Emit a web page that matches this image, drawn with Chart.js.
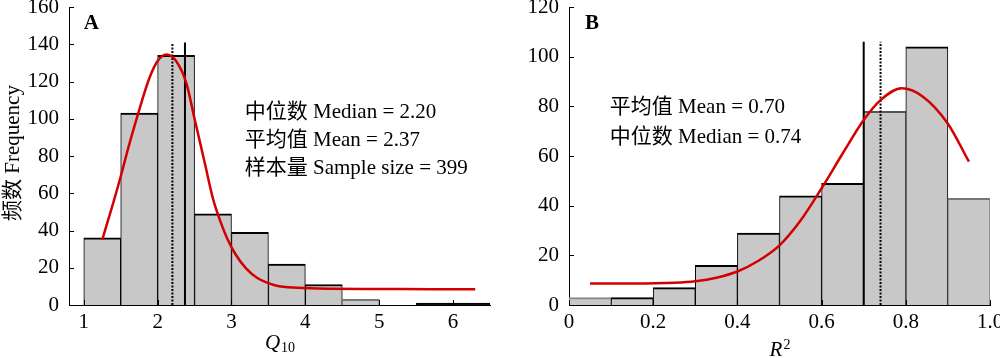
<!DOCTYPE html>
<html>
<head>
<meta charset="utf-8">
<script src="https://cdn.jsdelivr.net/npm/chart.js@4.4.1/dist/chart.umd.min.js"></script>
<style>
  html, body { margin: 0; padding: 0; background: #fff; }
  #wrap { width: 1000px; height: 358px; display: flex; }
  .panel { position: relative; width: 500px; height: 358px; }
</style>
</head>
<body>
<div id="wrap">
  <div class="panel"><canvas id="chartA"></canvas></div>
  <div class="panel"><canvas id="chartB"></canvas></div>
</div>
<script>
// ---- panel A : Q10 ----
const binsA = [1.25, 1.75, 2.25, 2.75, 3.25, 3.75, 4.25, 4.75, 5.25, 5.75, 6.25];
const countsA = [36, 103, 134, 49, 39, 22, 11, 3, 0, 1, 1];
const curveXA = [1.25, 1.4, 1.5, 1.6, 1.73, 1.89, 2.0, 2.12, 2.25, 2.39, 2.5, 2.64, 2.75, 2.84, 2.95, 3.05, 3.2, 3.35, 3.6, 3.9, 4.3, 5.0, 5.7, 6.3];
const curveYA = [35, 55, 69, 84, 102, 122, 131, 134.5, 131, 119, 100, 76, 57, 46, 35, 27.5, 19.5, 14.5, 10.5, 9.2, 8.7, 8.6, 8.5, 8.5];
const meanA = 2.37, medianA = 2.20, lineTopA = 141;
const xTicksA = [1, 2, 3, 4, 5, 6];
const xLabelsA = ['1', '2', '3', '4', '5', '6'];
const yTicksA = [0, 20, 40, 60, 80, 100, 120, 140, 160];
const textsA = ['中位数 Median = 2.20', '平均值 Mean = 2.37', '样本量 Sample size = 399'];

// ---- panel B : R2 ----
const binsB = [0.05, 0.15, 0.25, 0.35, 0.45, 0.55, 0.65, 0.75, 0.85, 0.95];
const countsB = [3, 3, 7, 16, 29, 44, 49, 78, 104, 43];
const curveXB = [0.05, 0.15, 0.25, 0.3, 0.35, 0.4, 0.45, 0.5, 0.55, 0.6, 0.65, 0.7, 0.74, 0.79, 0.84, 0.9, 0.95];
const curveYB = [8.7, 8.7, 9.0, 9.6, 11, 13.5, 17.8, 24, 34, 47, 61, 74.5, 82.5, 87.3, 84, 73, 57.7];
const meanB = 0.70, medianB = 0.74, lineTopB = 106;
const xTicksB = [0, 0.2, 0.4, 0.6, 0.8, 1.0];
const xLabelsB = ['0', '0.2', '0.4', '0.6', '0.8', '1.0'];
const yTicksB = [0, 20, 40, 60, 80, 100, 120];
const textsB = ['平均值 Mean = 0.70', '中位数 Median = 0.74'];

const FONT = "'Liberation Serif', 'Noto Sans CJK SC', serif";
Chart.defaults.font.family = FONT;
Chart.defaults.font.size = 21;
Chart.defaults.color = '#000';

const decor = {
    id: 'decor',
    afterDatasetsDraw(chart, args, opts) {
        const ctx = chart.ctx, area = chart.chartArea;
        const xs = chart.scales.x, ys = chart.scales.y;
        ctx.save();
        ctx.strokeStyle = '#000';
        ctx.lineWidth = 1;
        ctx.beginPath();
        xs.ticks.forEach(t => {
            const px = Math.round(xs.getPixelForValue(t.value)) + 0.5;
            ctx.moveTo(px, area.bottom);
            ctx.lineTo(px, area.bottom - 5);
        });
        ys.ticks.forEach(t => {
            const py = Math.round(ys.getPixelForValue(t.value)) + 0.5;
            ctx.moveTo(area.left, py);
            ctx.lineTo(area.left + 5, py);
        });
        ctx.stroke();
        ctx.restore();
    },
    afterDraw(chart, args, opts) {
        const ctx = chart.ctx, area = chart.chartArea;
        const xs = chart.scales.x, ys = chart.scales.y;
        ctx.save();
        ctx.fillStyle = '#000';
        ctx.textBaseline = 'alphabetic';
        ctx.textAlign = 'left';

        // panel letter
        ctx.font = 'bold 21px ' + FONT;
        ctx.fillText(opts.letter, xs.getPixelForValue(opts.letterAt[0]), ys.getPixelForValue(opts.letterAt[1]));

        // annotation lines
        ctx.font = '21px ' + FONT;
        opts.lines.forEach((s, i) => {
            ctx.fillText(s, xs.getPixelForValue(opts.linesX), ys.getPixelForValue(opts.linesY[i]));
        });

        // x title with sub/superscript
        const cx = (area.left + area.right) / 2;
        ctx.font = 'italic 21px ' + FONT;
        const w1 = ctx.measureText(opts.xMain).width;
        ctx.font = '14px ' + FONT;
        const w2 = ctx.measureText(opts.xSmall).width;
        const x0 = cx - (w1 + w2) / 2;
        ctx.font = 'italic 21px ' + FONT;
        ctx.fillText(opts.xMain, x0, opts.xBase);
        ctx.font = '14px ' + FONT;
        ctx.fillText(opts.xSmall, x0 + w1 + 1, opts.xSmallBase);

        // y title
        if (opts.yTitle) {
            ctx.translate(13, (area.top + area.bottom) / 2 - 3);
            ctx.rotate(-Math.PI / 2);
            ctx.textAlign = 'center';
            ctx.textBaseline = 'middle';
            ctx.font = '21px ' + FONT;
            ctx.fillText(opts.yTitle, 0, 0);
        }
        ctx.restore();
    }
};

function pts(xs, ys) {
    return xs.map((x, i) => ({ x: x, y: ys[i] }));
}

function vline(x, top, dash) {
    return {
        type: 'line',
        data: [{ x: x, y: 0 }, { x: x, y: top }],
        borderColor: '#000',
        borderWidth: 2,
        borderDash: dash,
        pointRadius: 0,
        order: 1
    };
}

function makeChart(id, cfg) {
    return new Chart(document.getElementById(id), {
        type: 'bar',
        data: {
            datasets: [
                {
                    type: 'line',
                    data: pts(cfg.curveX, cfg.curveY),
                    borderColor: '#d40000',
                    borderWidth: 2.5,
                    pointRadius: 0,
                    cubicInterpolationMode: 'monotone',
                    order: 0
                },
                vline(cfg.mean, cfg.lineTop, []),
                vline(cfg.median, cfg.lineTop, [2, 1.5]),
                {
                    type: 'bar',
                    data: pts(cfg.bins, cfg.counts),
                    backgroundColor: cfg.barFill,
                    borderColor: cfg.barBorder,
                    borderWidth: { top: 2, left: 1, right: 1, bottom: 0 },
                    borderSkipped: 'start',
                    barPercentage: 1,
                    categoryPercentage: 1,
                    grouped: false,
                    order: 3
                }
            ]
        },
        options: {
            responsive: true,
            maintainAspectRatio: false,
            animation: false,
            layout: { padding: { top: 7, right: 10, left: 0, bottom: 0 } },
            plugins: {
                legend: { display: false },
                tooltip: { enabled: false },
                decor: cfg.decor
            },
            scales: {
                x: {
                    type: 'linear',
                    min: cfg.xMin,
                    max: cfg.xMax,
                    offset: false,
                    grid: { display: false, drawTicks: false },
                    border: { display: true, color: '#000', width: 1 },
                    ticks: {
                        padding: 5,
                        maxRotation: 0,
                        autoSkip: false,
                        callback: (v, i) => cfg.xLabels[i]
                    },
                    afterBuildTicks: s => { s.ticks = cfg.xTicks.map(v => ({ value: v })); },
                    afterFit: s => { s.height = 53; s.paddingLeft = 0; s.paddingRight = 0; }
                },
                y: {
                    min: 0,
                    max: cfg.yMax,
                    grid: { display: false, drawTicks: false },
                    border: { display: true, color: '#000', width: 1 },
                    ticks: { padding: 10 },
                    afterBuildTicks: s => { s.ticks = cfg.yTicks.map(v => ({ value: v })); },
                    afterFit: s => { s.width = 69; s.paddingTop = 0; s.paddingBottom = 0; }
                }
            }
        },
        plugins: [decor]
    });
}

makeChart('chartA', {
    bins: binsA, counts: countsA, curveX: curveXA, curveY: curveYA,
    mean: meanA, median: medianA, lineTop: lineTopA,
    xMin: 0.8, xMax: 6.5, yMax: 160,
    xTicks: xTicksA, xLabels: xLabelsA, yTicks: yTicksA,
    barFill: ['#c8c8c8', '#c8c8c8', '#c8c8c8', '#c8c8c8', '#c8c8c8', '#c8c8c8', '#c8c8c8', '#c8c8c8', '#c8c8c8', '#111', '#111'],
    barBorder: ['#000', '#000', '#000', '#000', '#000', '#000', '#000', '#777', '#000', '#000', '#000'],
    decor: {
        letter: 'A', letterAt: [1.0, 148],
        lines: textsA, linesX: 3.18, linesY: [100.4, 85.4, 70.3],
        xMain: 'Q', xSmall: '10', xBase: 349, xSmallBase: 352,
        yTitle: '频数 Frequency'
    }
});

makeChart('chartB', {
    bins: binsB, counts: countsB, curveX: curveXB, curveY: curveYB,
    mean: meanB, median: medianB, lineTop: lineTopB,
    xMin: 0, xMax: 1.0, yMax: 120,
    xTicks: xTicksB, xLabels: xLabelsB, yTicks: yTicksB,
    barFill: '#c8c8c8',
    barBorder: ['#888', '#000', '#000', '#000', '#000', '#000', '#000', '#555', '#000', '#777'],
    decor: {
        letter: 'B', letterAt: [0.038, 111],
        lines: textsB, linesX: 0.097, linesY: [77.2, 65.1],
        xMain: 'R', xSmall: '2', xBase: 356, xSmallBase: 349,
        yTitle: ''
    }
});
</script>
</body>
</html>
